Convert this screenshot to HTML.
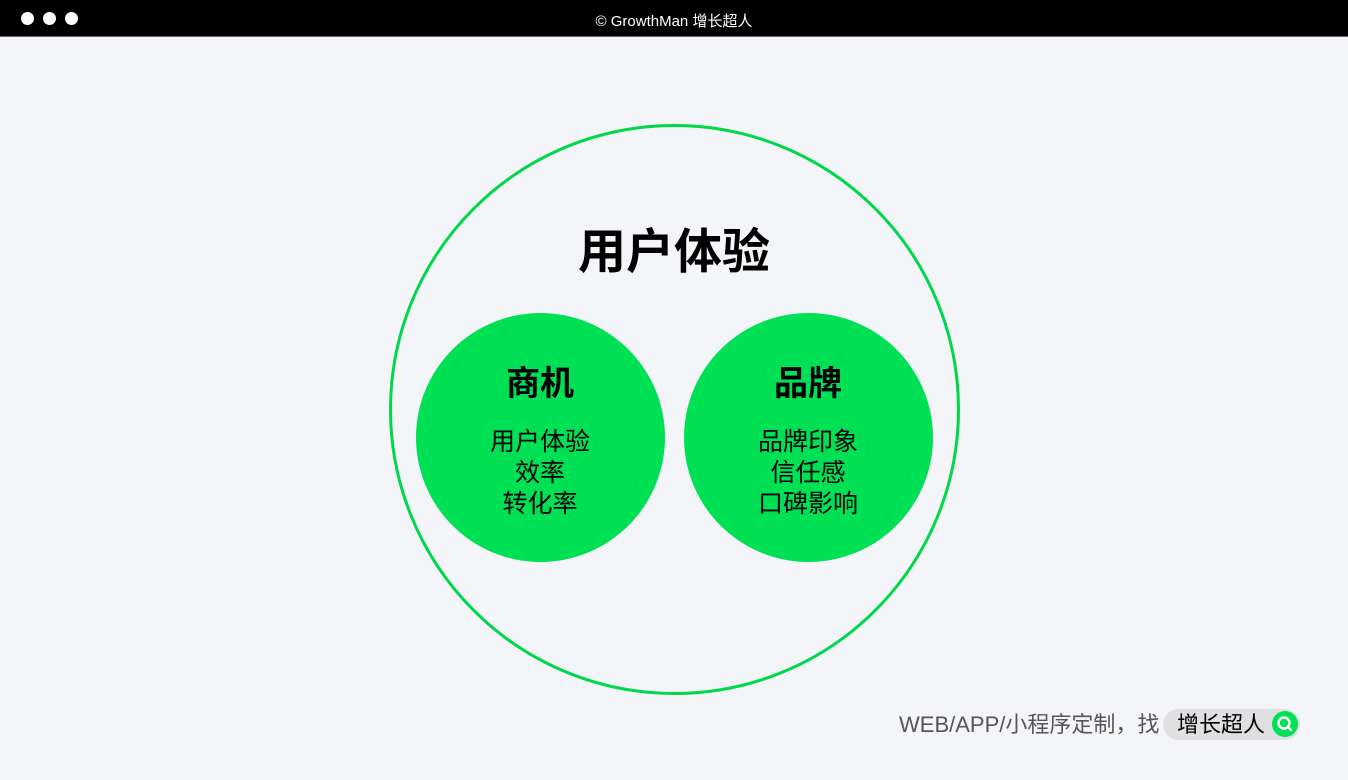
<!DOCTYPE html>
<html><head><meta charset="utf-8"><style>
body{margin:0;width:1348px;height:780px;background:#f4f5f9;position:relative;overflow:hidden;font-family:"Liberation Sans","Noto Sans CJK SC",sans-serif}
.bar{position:absolute;left:0;top:0;width:1348px;height:37px;background:#000;border-bottom:1px solid #666;box-sizing:border-box}
.dot{position:absolute;top:12px;width:13px;height:13px;border-radius:50%;background:#fff}
.t{position:absolute;width:100%;text-align:center;top:10px;color:#fff;font-size:15px}
.c{position:absolute;border-radius:50%;box-sizing:border-box}
.lbl{position:absolute;text-align:center;color:#000;width:300px}
</style></head><body>
<div class="bar"><div class="dot" style="left:21px"></div><div class="dot" style="left:43px"></div><div class="dot" style="left:65px"></div><div class="t">© GrowthMan 增长超人</div></div>
<div class="c" style="left:389px;top:124px;width:571px;height:571px;border:3px solid #00d84c"></div>
<div class="lbl" style="left:524px;top:223px;font-size:48px;font-weight:bold;line-height:60px">用户体验</div>
<div class="c" style="left:416px;top:313px;width:249px;height:249px;background:#00e055"></div>
<div class="c" style="left:684px;top:313px;width:249px;height:249px;background:#00e055"></div>
<div class="lbl" style="left:390px;top:363px;font-size:34px;font-weight:bold;line-height:42px">商机</div>
<div class="lbl" style="left:658px;top:363px;font-size:34px;font-weight:bold;line-height:42px">品牌</div>
<div class="lbl" style="left:390px;top:427px;font-size:25px;line-height:31px">用户体验<br>效率<br>转化率</div>
<div class="lbl" style="left:658px;top:427px;font-size:25px;line-height:31px">品牌印象<br>信任感<br>口碑影响</div>
<div style="position:absolute;left:899px;top:710px;font-size:22px;line-height:30px;color:#555">WEB/APP/小程序定制，找</div>
<div style="position:absolute;left:1163px;top:709px;width:137px;height:31px;border-radius:16px;background:#e0e0e2"></div>
<div style="position:absolute;left:1177px;top:710px;font-size:22px;line-height:30px;color:#000">增长超人</div>
<svg style="position:absolute;left:1271px;top:710px" width="28" height="28"><circle cx="14" cy="14" r="13" fill="#00e055"/><circle cx="13" cy="13" r="5.5" fill="none" stroke="#fff" stroke-width="2.5"/><line x1="17" y1="17" x2="20" y2="20" stroke="#fff" stroke-width="2.5" stroke-linecap="round"/></svg>
</body></html>
